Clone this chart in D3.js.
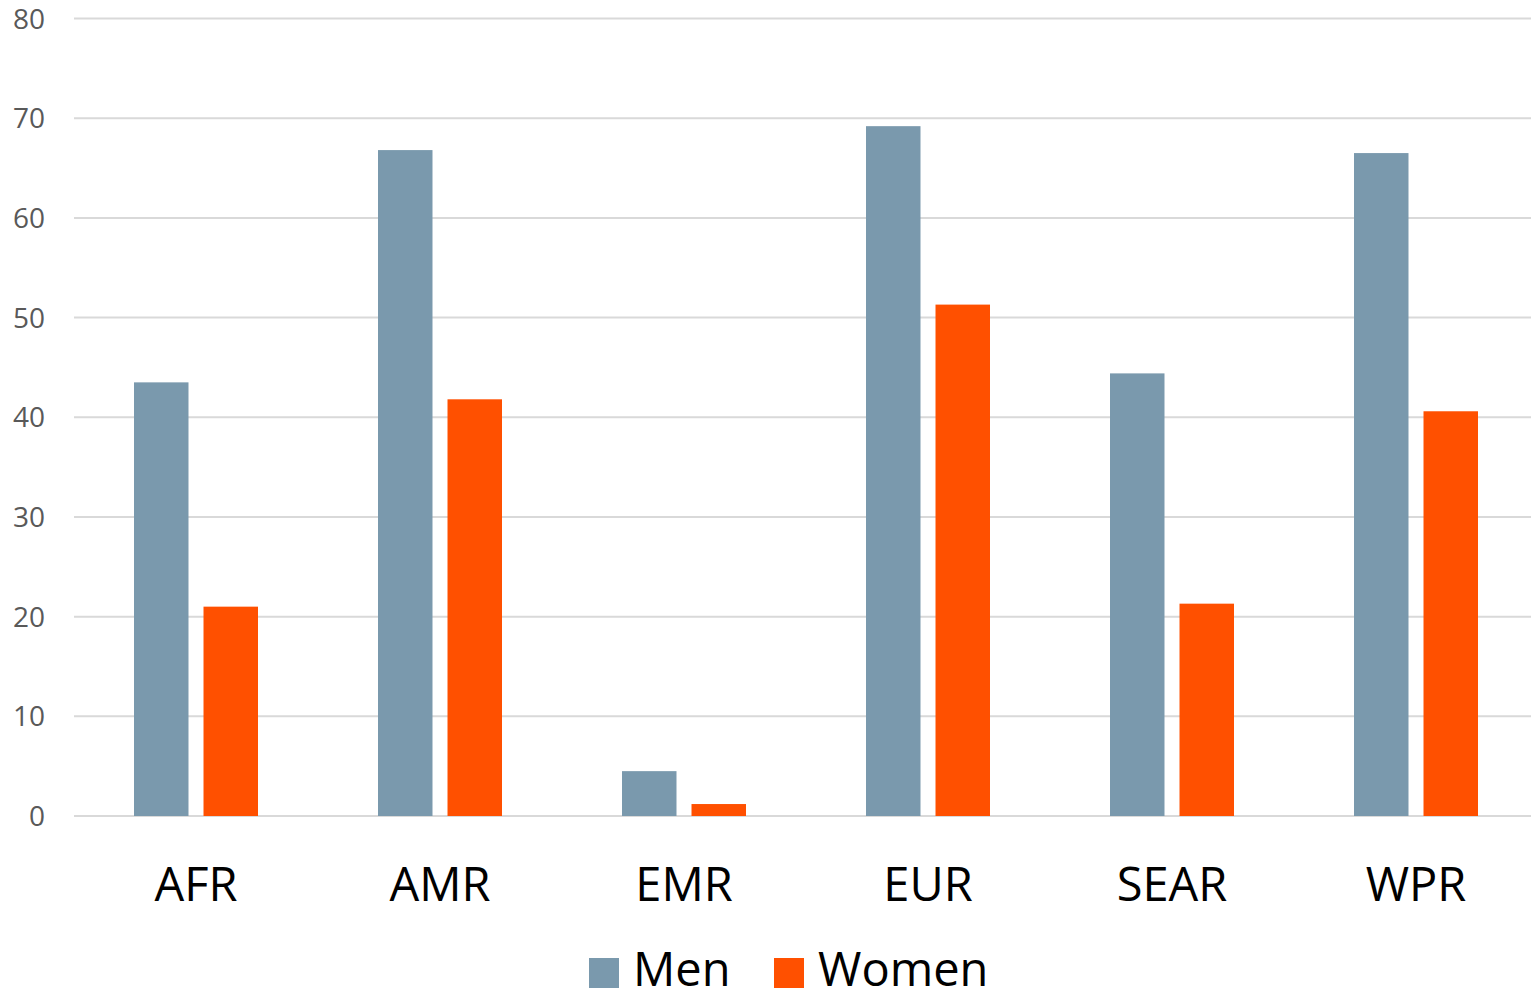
<!DOCTYPE html>
<html>
<head>
<meta charset="utf-8">
<script src="https://cdn.jsdelivr.net/npm/d3@7"></script>
<style>
  html, body { margin: 0; padding: 0; background: #fff; }
  svg { display: block; }
</style>
</head>
<body>
<svg id="chart" width="1531" height="991"></svg>
<script>
// Regions and values per sex
const regions = ["AFR", "AMR", "EMR", "EUR", "SEAR", "WPR"];
const men     = [43.5, 66.8, 4.5, 69.2, 44.4, 66.5];
const women   = [21.0, 41.8, 1.2, 51.3, 21.3, 40.6];
const yTicks  = [0, 10, 20, 30, 40, 50, 60, 70, 80];
const seriesNames  = ["Men", "Women"];
const seriesColors = ["#7a99ad", "#ff5000"];

const svg = d3.select("#chart");
const font = "'Open Sans', 'DejaVu Sans', sans-serif";

// The category band runs a little past the right edge of the canvas
const plot = { left: 74, right: 1538, gridRight: 1531, top: 18.5, bottom: 816 };

const x = d3.scaleBand().domain(regions).range([plot.left, plot.right]).paddingInner(0).paddingOuter(0);
const y = d3.scaleLinear().domain([0, 80]).range([plot.bottom, plot.top]);
const groupWidth = 124;
const sub = d3.scaleBand().domain(seriesNames).range([0, groupWidth]).paddingInner(0.216);

// Gridlines
svg.append("g")
  .selectAll("line")
  .data(yTicks)
  .join("line")
  .attr("x1", plot.left).attr("x2", plot.gridRight)
  .attr("y1", d => y(d)).attr("y2", d => y(d))
  .attr("stroke", "#d9d9d9").attr("stroke-width", 2);

// Y tick labels
svg.append("g")
  .selectAll("text")
  .data(yTicks)
  .join("text")
  .attr("x", 45).attr("y", d => y(d))
  .attr("dy", "0.36em")
  .attr("text-anchor", "end")
  .attr("font-family", font).attr("font-size", 28)
  .attr("fill", "#595959")
  .text(d => d);

// Bars
const rows = regions.map((r, i) => ({ region: r, values: [men[i], women[i]] }));
const groups = svg.append("g")
  .selectAll("g")
  .data(rows)
  .join("g")
  .attr("transform", d => `translate(${x(d.region) + x.bandwidth() / 2 - groupWidth / 2},0)`);

groups.selectAll("rect")
  .data(d => d.values.map((v, k) => ({ key: seriesNames[k], v, k })))
  .join("rect")
  .attr("x", d => sub(d.key))
  .attr("width", sub.bandwidth())
  .attr("y", d => y(d.v))
  .attr("height", d => y(0) - y(d.v))
  .attr("fill", d => seriesColors[d.k]);

// Category labels
svg.append("g")
  .selectAll("text")
  .data(regions)
  .join("text")
  .attr("x", d => x(d) + x.bandwidth() / 2)
  .attr("y", 901)
  .attr("text-anchor", "middle")
  .attr("font-family", font).attr("font-size", 47)
  .attr("fill", "#000")
  .text(d => d);

// Legend
const legendItems = [
  { name: seriesNames[0], color: seriesColors[0], x: 589 },
  { name: seriesNames[1], color: seriesColors[1], x: 774 }
];
const lg = svg.append("g").selectAll("g").data(legendItems).join("g")
  .attr("transform", d => `translate(${d.x},0)`);
lg.append("rect").attr("x", 0).attr("y", 958).attr("width", 30).attr("height", 30)
  .attr("fill", d => d.color);
lg.append("text").attr("x", 44).attr("y", 986)
  .attr("font-family", font).attr("font-size", 47).attr("fill", "#000")
  .text(d => d.name);
</script>
</body>
</html>
